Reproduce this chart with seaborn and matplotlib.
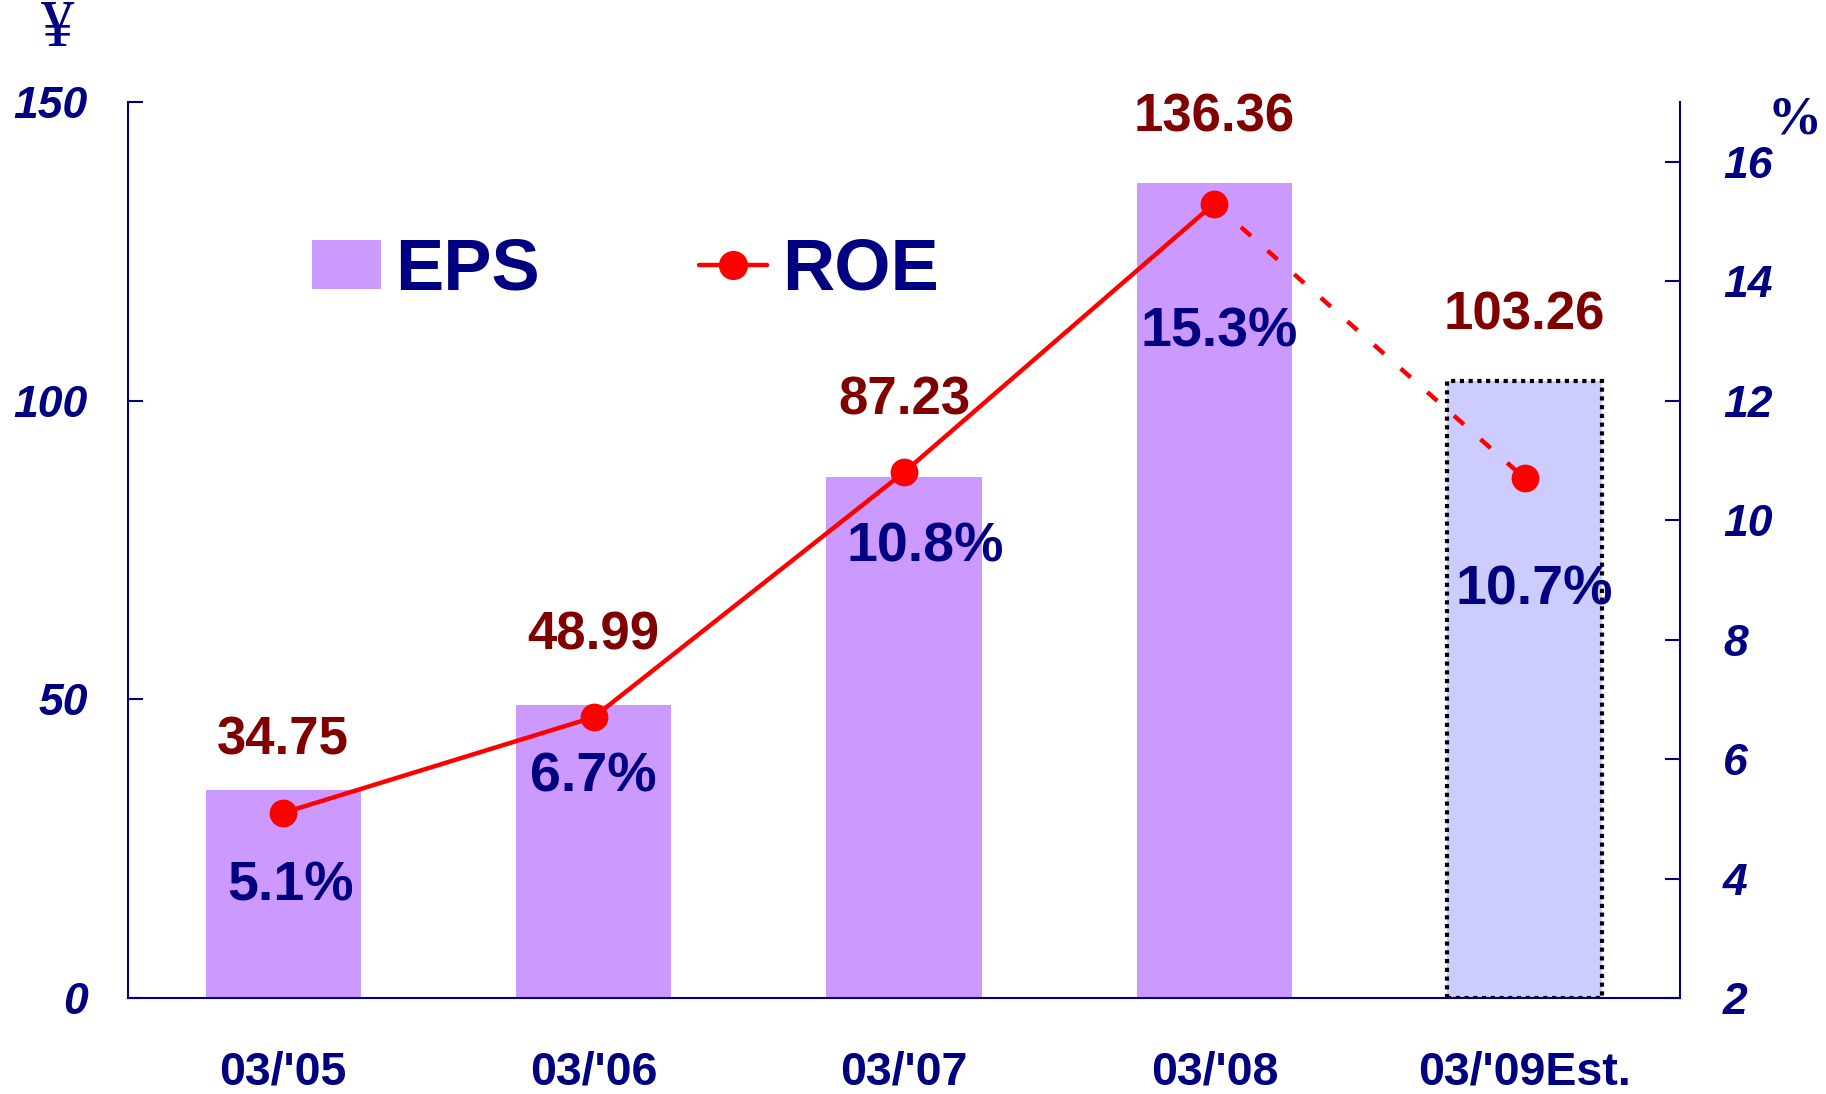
import numpy as np
import matplotlib
matplotlib.use("Agg")
import matplotlib.pyplot as plt
import seaborn as sns
from matplotlib.patches import Patch
from matplotlib.lines import Line2D

# =========================
# Datos
# =========================
periods = ["03/'05", "03/'06", "03/'07", "03/'08", "03/'09Est."]
eps = [34.75, 48.99, 87.23, 136.36, 103.26]
roe = [5.1, 6.7, 10.8, 15.3, 10.7]
eps_labels = ["34.75", "48.99", "87.23", "136.36", "103.26"]
roe_labels = ["5.1%", "6.7%", "10.8%", "15.3%", "10.7%"]

# posiciones de las etiquetas (desplazamientos respecto al dato)
eps_off = [6.0, 9.3, 10.5, 8.7, 8.7]
roe_off = [1.46, 1.25, 1.49, 2.39, 2.12]
roe_dx = [0.025, 0.0, 0.07, 0.015, 0.03]

NAVY = "#000080"
MAROON = "#800000"
bar_colors = ["#CC99FF", "#CC99FF", "#CC99FF", "#CC99FF", "#CCCCFF"]

sns.set_style("white")
plt.rcParams["font.family"] = ["Liberation Sans", "DejaVu Sans"]

fig = plt.figure(figsize=(18.26, 10.94), dpi=100)
ax = fig.add_axes([0.0701, 0.0877, 0.8499, 0.8191])
x = np.arange(len(periods))

# =========================
# Barras EPS
# =========================
sns.barplot(x=periods, y=eps, hue=periods, palette=bar_colors, width=0.5,
            saturation=1, legend=False, ax=ax)
for i, p in enumerate(ax.patches):
    if i == 4:
        p.set_edgecolor("black")
        p.set_linewidth(3)
        p.set_linestyle((0, (1, 1.1)))
    else:
        p.set_linewidth(0)

ax.set_xlim(-0.5, 4.5)
ax.set_ylim(0, 150)
ax.set_xlabel("")
ax.set_ylabel("")
ax.set_yticks([0, 50, 100, 150])
ax.tick_params(axis="y", direction="in", length=11, width=1.5, color=NAVY,
               pad=29, labelsize=32, labelcolor=NAVY)
for lbl in ax.get_yticklabels():
    lbl.set_fontstyle("italic")
    lbl.set_fontweight("bold")

ax.set_xticks(x)
ax.set_xticklabels(periods, fontsize=33.5, fontweight="bold", color=NAVY)
ax.tick_params(axis="x", which="major", length=0, pad=37.5)
ax.set_xticks([0.5, 1.5, 2.5, 3.5], minor=True)
ax.tick_params(axis="x", which="minor", direction="in", length=11, width=1.5, color=NAVY)

ax.spines["top"].set_visible(False)
ax.spines["right"].set_visible(False)
for s in ["left", "bottom"]:
    ax.spines[s].set_color(NAVY)
    ax.spines[s].set_linewidth(1.5)

for i in range(len(eps)):
    ax.text(x[i], eps[i] + eps_off[i], eps_labels[i], ha="center", va="baseline",
            fontsize=38, fontweight="bold", color=MAROON)

# =========================
# Linea ROE (eje derecho)
# =========================
ax2 = ax.twinx()
ax2.set_ylim(2, 17)
ax2.set_yticks(range(2, 17, 2))
ax2.tick_params(axis="y", direction="in", length=11, width=1.5, color=NAVY,
                pad=31, labelsize=32, labelcolor=NAVY)
for lbl in ax2.get_yticklabels():
    lbl.set_fontstyle("italic")
    lbl.set_fontweight("bold")
for s in ["top", "left", "bottom"]:
    ax2.spines[s].set_visible(False)
ax2.spines["right"].set_color(NAVY)
ax2.spines["right"].set_linewidth(1.5)

ax2.plot(x[3:], roe[3:], color="red", lw=3.2, linestyle=(0, (3, 5)), zorder=2)
ax2.plot(x[:4], roe[:4], color="red", lw=3.2, marker="o", ms=19, zorder=3)
ax2.plot(x[4:], roe[4:], "o", color="red", ms=19, zorder=3)

for i in range(len(roe)):
    ax2.text(x[i] + roe_dx[i], roe[i] - roe_off[i], roe_labels[i], ha="center",
             va="baseline", fontsize=40, fontweight="bold", color=NAVY, zorder=4)

# =========================
# Unidades y leyenda
# =========================
fig.text(58 / 1826, 1 - 30 / 1094, "¥", ha="center", va="center", fontsize=48,
         family="Liberation Serif", color=NAVY)
fig.text(1795 / 1826, 1 - 120 / 1094, "%", ha="center", va="center", fontsize=39,
         family="Liberation Serif", fontweight="bold", color=NAVY)

handles = [Patch(facecolor="#CC99FF", edgecolor="none"),
           Line2D([], [], color="red", lw=3.2, marker="o", ms=20)]
leg = fig.legend(handles, ["EPS", "ROE"], loc="center left",
                 bbox_to_anchor=(312 / 1826, 1 - 271 / 1094), ncol=2, frameon=False,
                 prop=dict(family="Liberation Sans", weight="bold", size=52),
                 handlelength=0.95, handleheight=0.68, handletextpad=0.2,
                 columnspacing=2.2, borderpad=0, borderaxespad=0)
for t in leg.get_texts():
    t.set_color(NAVY)

fig.savefig("out.png", dpi=100)
